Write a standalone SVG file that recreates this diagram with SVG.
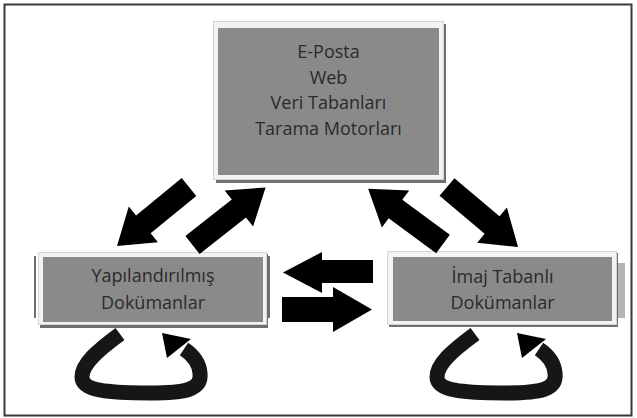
<svg xmlns="http://www.w3.org/2000/svg" width="637" height="418" viewBox="0 0 637 418">
  <style>
    .frame { fill: #f3f3f3; stroke: #d4d4d4; stroke-width: 1; }
    .panel { fill: #8a8a8a; }
    .shade { fill: #707070; }
    .side { fill: #b5b5b5; }
    .label { font-family: "Open Sans", "DejaVu Sans", sans-serif; font-size: 18px; fill: #2a2a2a; text-anchor: middle; }
    .block { fill: #000; }
    .loop { fill: none; stroke: #161616; stroke-width: 15; stroke-linecap: butt; }
    .loophead { fill: #000; }
  </style>
  <defs>
    <!-- straight block arrow pointing along +x, tail at the origin -->
    <path id="blockArrow" d="M0,-11.5 L59,-11.5 L59,-23 L93,0 L59,23 L59,11.5 L0,11.5 Z"/>
  </defs>

  <rect x="0" y="0" width="637" height="418" fill="#fff"/>
  <!-- outer border -->
  <rect x="4.5" y="4.5" width="627" height="411" fill="none" stroke="#3a3a3a" stroke-width="2"/>

  <!-- sources node -->
  <g id="kaynaklar">
    <rect class="shade" x="216" y="24" width="230" height="159"/>
    <rect class="frame" x="213.5" y="21.5" width="230" height="158"/>
    <rect class="panel" x="218" y="28" width="221" height="147"/>
    <text class="label" x="328.5" y="58">E-Posta</text>
    <text class="label" x="328.5" y="83.5">Web</text>
    <text class="label" x="328.5" y="109">Veri Tabanları</text>
    <text class="label" x="328.5" y="134.5">Tarama Motorları</text>
  </g>

  <!-- structured documents node -->
  <g id="yapilandirilmis">
    <rect class="shade" x="34" y="256" width="2" height="62"/>
    <rect class="shade" x="268" y="256" width="2" height="62"/>
    <rect class="shade" x="40" y="254" width="228" height="74"/>
    <rect class="frame" x="38.5" y="252.5" width="228" height="72"/>
    <rect class="panel" x="43" y="257" width="220" height="65"/>
    <text class="label" x="153" y="282">Yapılandırılmış</text>
    <text class="label" x="153" y="309">Dokümanlar</text>
  </g>

  <!-- image based documents node -->
  <g id="imaj-tabanli">
    <rect class="side" x="618" y="263" width="7" height="55"/>
    <rect class="shade" x="389" y="253" width="229" height="74"/>
    <rect class="frame" x="387.5" y="251.5" width="229" height="73"/>
    <rect class="panel" x="393" y="257" width="219" height="64"/>
    <text class="label" x="502.5" y="283">İmaj Tabanlı</text>
    <text class="label" x="502.5" y="309">Dokümanlar</text>
  </g>

  <g id="connectors">
    <!-- between the sources and the structured documents -->
    <use href="#blockArrow" class="block" transform="translate(189,187) rotate(140.7)"/>
    <use href="#blockArrow" class="block" transform="translate(192.5,245) rotate(-38.2)"/>
    <!-- between the sources and the image based documents -->
    <use href="#blockArrow" class="block" transform="translate(443,244) rotate(-143.6)"/>
    <use href="#blockArrow" class="block" transform="translate(447,187) rotate(40.2)"/>
    <!-- between the two document nodes -->
    <path class="block" d="M373,260 L322,260 L322,252 L283,272.5 L322,293 L322,283 L373,283 Z"/>
    <path class="block" d="M282,297 L333,297 L333,287 L372,309.5 L333,332 L333,322 L282,322 Z"/>
    <!-- self loop under the structured documents -->
    <path class="loop" d="M120,334 C97,351 82,364 82,377 C82,391 110,393 150,393 C185,393 202,390 200,373 C199,362 193,355 184,349"/>
    <path class="loophead" d="M162,333 L167,358 L191,339 Z"/>
    <!-- self loop under the image based documents -->
    <path class="loop" d="M475,334 C452,351 437,364 437,377 C437,391 465,393 505,393 C540,393 557,390 555,373 C554,362 548,355 539,349"/>
    <path class="loophead" d="M517,333 L522,358 L546,339 Z"/>
  </g>
</svg>
